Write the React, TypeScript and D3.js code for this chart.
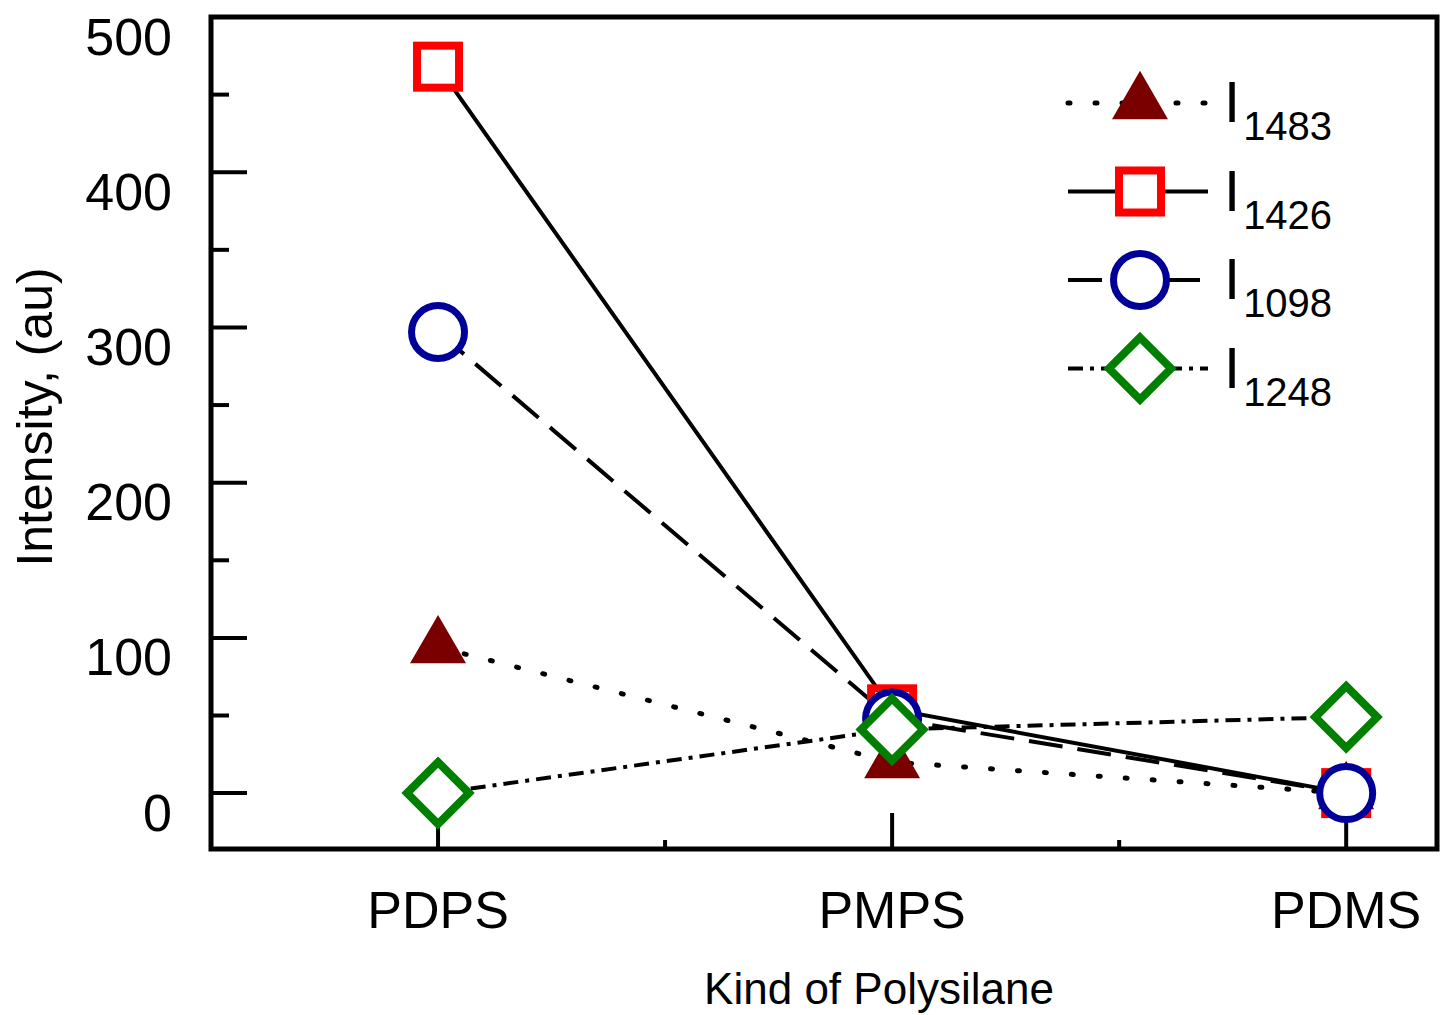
import React from "react";
import * as d3 from "d3";

const categories = ["PDPS", "PMPS", "PDMS"];
const i1483 = [94, 20, 0];
const i1426 = [468, 54, 0];
const i1098 = [297, 48, 0];
const i1248 = [0, 41, 49];
const yMajorTicks = [0, 100, 200, 300, 400, 500];
const yMinorTicks = [50, 150, 250, 350, 450];
const xMinorTicks = [1.5, 2.5];
const legendSubs = ["1483", "1426", "1098", "1248"];

const FONT = "'Liberation Sans', Arial, sans-serif";

type Kind = "triangle" | "square" | "circle" | "diamond";

const seriesList: { name: string; values: number[]; kind: Kind; color: string; dash: string }[] = [
  { name: legendSubs[0], values: i1483, kind: "triangle", color: "#7a0000", dash: "2 25" },
  { name: legendSubs[1], values: i1426, kind: "square", color: "#ff0000", dash: "" },
  { name: legendSubs[2], values: i1098, kind: "circle", color: "#000099", dash: "34 15" },
  { name: legendSubs[3], values: i1248, kind: "diamond", color: "#007f00", dash: "15 7 4 7" },
];

function Marker({ kind, color, x, y }: { kind: Kind; color: string; x: number; y: number }) {
  if (kind === "triangle") {
    const p = d3.symbol(d3.symbolTriangle, 1358)() as string;
    return <path d={p} transform={`translate(${x},${y})`} fill={color} />;
  }
  if (kind === "square") {
    return <rect x={x - 21} y={y - 21} width={42} height={42} fill="#fff" stroke={color} strokeWidth={8} />;
  }
  if (kind === "circle") {
    return <circle cx={x} cy={y} r={26.5} fill="#fff" stroke={color} strokeWidth={7} />;
  }
  const h = 31;
  return (
    <path
      d={`M${x},${y - h}L${x + h},${y}L${x},${y + h}L${x - h},${y}Z`}
      fill="#fff"
      stroke={color}
      strokeWidth={8}
    />
  );
}

export default function App() {
  const W = 1440;
  const H = 1015;
  const x = d3.scaleLinear().domain([0.5, 3.2]).range([211, 1437]);
  const y = d3.scaleLinear().domain([-36, 500]).range([849, 17]);
  const line = d3
    .line<number>()
    .x((_, i) => x(i + 1))
    .y((d) => y(d));

  const left = x(0.5);
  const right = x(3.2);
  const top = y(500);
  const bottom = y(-36);

  const legendX0 = 1068;
  const legendX1 = 1208;
  const legendMX = 1140;
  const legendY0 = 103;
  const legendDY = 88.5;

  const lineWidth = (k: Kind) => (k === "triangle" ? 5 : 4);

  return (
    <svg
      width={W}
      height={H}
      style={{ position: "absolute", left: 0, top: 0, background: "#fff" }}
      fontFamily={FONT}
    >
      {/* y ticks */}
      {yMajorTicks.map((t) => (
        <g key={"yt" + t}>
          <line x1={left} x2={left + 36} y1={y(t)} y2={y(t)} stroke="#000" strokeWidth={4} />
          <text x={172} y={y(t) + 37.5} fontSize={52} textAnchor="end" fill="#000">
            {t}
          </text>
        </g>
      ))}
      {yMinorTicks.map((t) => (
        <line key={"ym" + t} x1={left} x2={left + 18} y1={y(t)} y2={y(t)} stroke="#000" strokeWidth={4} />
      ))}
      {/* x ticks */}
      {categories.map((c, i) => (
        <g key={"xt" + c}>
          <line x1={x(i + 1)} x2={x(i + 1)} y1={bottom} y2={bottom - 36} stroke="#000" strokeWidth={4} />
          <text x={x(i + 1)} y={928} fontSize={52} textAnchor="middle" fill="#000">
            {c}
          </text>
        </g>
      ))}
      {xMinorTicks.map((t) => (
        <line key={"xm" + t} x1={x(t)} x2={x(t)} y1={bottom} y2={bottom - 9} stroke="#000" strokeWidth={4} />
      ))}

      {/* frame */}
      <rect x={left} y={top} width={right - left} height={bottom - top} fill="none" stroke="#000" strokeWidth={5} />

      {/* lines */}
      {seriesList.map((s) => (
        <path
          key={"l" + s.name}
          d={line(s.values) as string}
          fill="none"
          stroke="#000"
          strokeWidth={lineWidth(s.kind)}
          strokeDasharray={s.dash || undefined}
          strokeLinecap={s.kind === "triangle" ? "round" : "butt"}
        />
      ))}
      {/* markers */}
      {seriesList.map((s) =>
        s.values.map((v, i) => (
          <Marker key={s.name + i} kind={s.kind} color={s.color} x={x(i + 1)} y={y(v)} />
        ))
      )}

      {/* axis titles */}
      <text transform="translate(52,417) rotate(-90)" fontSize={50} textAnchor="middle" fill="#000">
        Intensity, (au)
      </text>
      <text x={879} y={1004} fontSize={44} textAnchor="middle" fill="#000">
        Kind of Polysilane
      </text>

      {/* legend */}
      {seriesList.map((s, i) => {
        const ly = legendY0 + i * legendDY;
        return (
          <g key={"lg" + s.name}>
            <line
              x1={legendX0}
              x2={legendX1}
              y1={ly}
              y2={ly}
              stroke="#000"
              strokeWidth={lineWidth(s.kind)}
              strokeDasharray={s.dash || undefined}
              strokeLinecap={s.kind === "triangle" ? "round" : "butt"}
            />
            <Marker kind={s.kind} color={s.color} x={legendMX} y={ly} />
            <text x={1224} y={ly + 19} fontSize={58} fill="#000">
              I
              <tspan fontSize={40} dx={3} dy={18}>
                {s.name}
              </tspan>
            </text>
          </g>
        );
      })}
    </svg>
  );
}
